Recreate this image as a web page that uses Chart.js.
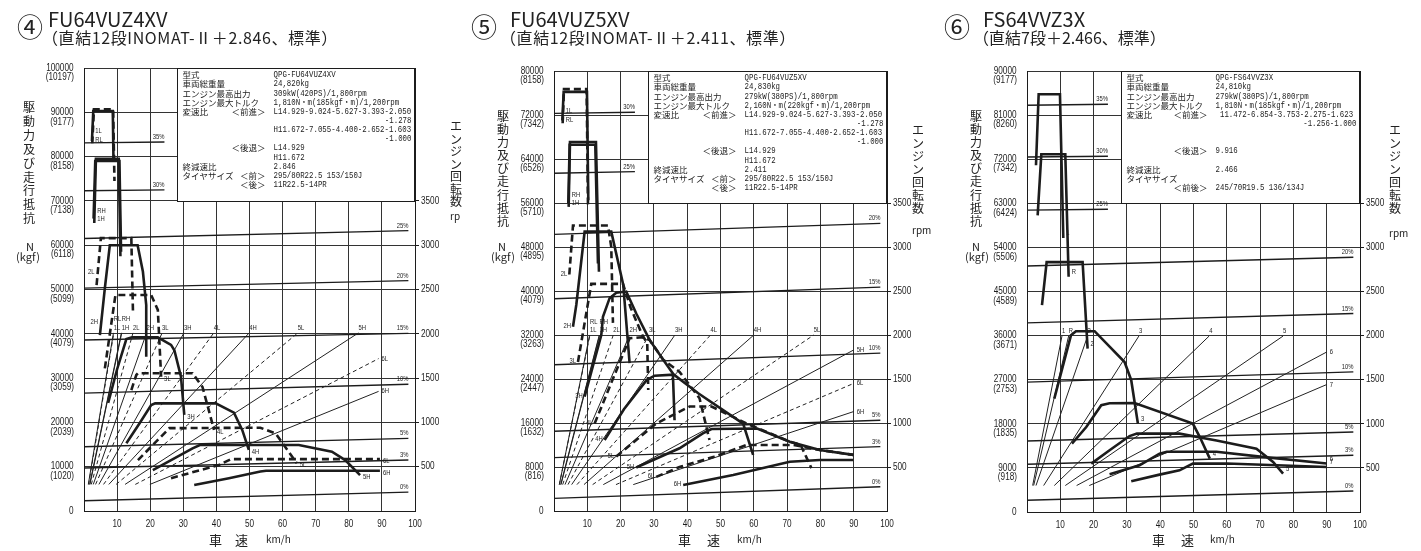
<!DOCTYPE html>
<html lang="ja">
<head>
<meta charset="utf-8">
<title>駆動力及び走行抵抗</title>
<script src="https://cdn.jsdelivr.net/npm/chart.js@4.4.1/dist/chart.umd.min.js"></script>
<style>
  html, body { margin: 0; padding: 0; background: #fff; }
  body { position: relative; width: 1421px; height: 551px; overflow: hidden; color: #222; font-family: "Noto Sans CJK JP", sans-serif; }
  canvas { position: absolute; top: 0; }
  .txt { position: absolute; white-space: nowrap; }
  .num { font-size: 26px; line-height: 26px; }
  .model { font-size: 20px; line-height: 20px; }
  .sub { font-size: 16px; line-height: 16px; }
  .vert { position: absolute; width: 14px; font-size: 12px; text-align: center; word-break: break-all; }
  .unit { font-size: 11px; line-height: 11px; text-align: center; width: 40px; }
  .axis { font-size: 13px; line-height: 13px; }
  .kmh { font-size: 10px; line-height: 10px; }
</style>
</head>
<body>
<canvas id="chart-fu4" width="470" height="551" style="left:0;width:470px;height:551px"></canvas>
<canvas id="chart-fu5" width="470" height="551" style="left:470px;width:470px;height:551px"></canvas>
<canvas id="chart-fs6" width="481" height="551" style="left:940px;width:481px;height:551px"></canvas>

<div class="txt num" style="left:17px;top:13px">④</div>
<div class="txt model" style="left:48px;top:9px">FU64VUZ4XV</div>
<div class="txt sub" style="left:42px;top:29px;letter-spacing:0.6px">（直結12段INOMAT-Ⅱ＋2.846、標準）</div>
<div class="txt num" style="left:471px;top:13px">⑤</div>
<div class="txt model" style="left:510px;top:9px">FU64VUZ5XV</div>
<div class="txt sub" style="left:500px;top:29px;letter-spacing:0.6px">（直結12段INOMAT-Ⅱ＋2.411、標準）</div>
<div class="txt num" style="left:944px;top:13px">⑥</div>
<div class="txt model" style="left:983px;top:9px">FS64VVZ3X</div>
<div class="txt sub" style="left:973px;top:29px">（直結7段＋2.466、標準）</div>

<div class="vert" style="left:22px;top:100px;line-height:13.9px">駆動力及び走行抵抗</div>
<div class="vert" style="left:496px;top:109px;line-height:13.1px">駆動力及び走行抵抗</div>
<div class="vert" style="left:969px;top:109px;line-height:13.1px">駆動力及び走行抵抗</div>
<div class="txt unit" style="left:10px;top:241px">N</div>
<div class="txt unit" style="left:8px;top:251px">(kgf)</div>
<div class="txt unit" style="left:482px;top:241px">N</div>
<div class="txt unit" style="left:483px;top:251px">(kgf)</div>
<div class="txt unit" style="left:956px;top:241px">N</div>
<div class="txt unit" style="left:957px;top:251px">(kgf)</div>

<div class="vert" style="left:449px;top:120px;line-height:12.5px">エンジン回転数</div>
<div class="txt kmh" style="left:450px;top:211px">rp</div>
<div class="vert" style="left:911px;top:123px;line-height:13px">エンジン回転数</div>
<div class="txt kmh" style="left:912px;top:225px">rpm</div>
<div class="vert" style="left:1388px;top:123px;line-height:13px">エンジン回転数</div>
<div class="txt kmh" style="left:1389px;top:228px">rpm</div>

<div class="txt axis" style="left:209px;top:533px">車</div>
<div class="txt axis" style="left:235px;top:533px">速</div>
<div class="txt kmh" style="left:266px;top:534px">km/h</div>
<div class="txt axis" style="left:678px;top:533px">車</div>
<div class="txt axis" style="left:707px;top:533px">速</div>
<div class="txt kmh" style="left:737px;top:534px">km/h</div>
<div class="txt axis" style="left:1152px;top:533px">車</div>
<div class="txt axis" style="left:1181px;top:533px">速</div>
<div class="txt kmh" style="left:1210px;top:534px">km/h</div>

<script>
// shared axis labels
const speedTicks = [10, 20, 30, 40, 50, 60, 70, 80, 90, 100];
const rpmTicks = [500, 1000, 1500, 2000, 2500, 3000, 3500];

// ④ FU64VUZ4XV
const fu4ForceTicks = [0, 10000, 20000, 30000, 40000, 50000, 60000, 70000, 80000, 90000, 100000];
const fu4KgfTicks = [0, 1020, 2039, 3059, 4079, 5099, 6118, 7138, 8158, 9177, 10197];
const fu4Grades = ["0%", "3%", "5%", "10%", "15%", "20%", "25%", "30%", "35%"];
const fu4GradeFrom = [2300, 9700, 14500, 26600, 38600, 50300, 61500, 72300, 83100];
const fu4GradeTo = [4250, 11500, 16400, 28600, 40100, 52000, 63300, 72500, 83300];
const fu4GradeEnd = [98, 98, 98, 98, 98, 98, 98, 24.3, 24.3];
const fu4RpmGears = ["RL", "1L", "RH", "1H", "2L", "2H", "3L", "3H", "4L", "4H", "5L", "5H", "6L", "6H"];
const fu4RpmTags = ["", "RL\n1L", "", "RH\n1H", "2L", "2H", "3L", "3H", "4L", "4H", "5L", "5H", "6L", "6H"];
const fu4RpmLow = [[1.3, 300], [1.4, 300], [1.7, 300], [1.8, 300], [2.2, 300], [2.8, 300], [3.5, 300], [4.5, 300], [5.9, 300], [7.5, 300], [9.7, 300], [12.4, 300], [15.5, 300], [19.9, 300]];
const fu4RpmHigh = [[8.9, 2010], [9.0, 2010], [11.3, 2010], [11.4, 2010], [14.8, 2010], [18.9, 2010], [23.6, 2010], [30.2, 2010], [39.2, 2010], [49.9, 2010], [64.6, 2010], [82.9, 2010], [89, 1720], [89, 1350]];
const fu4ForceGears = ["1L", "RL", "1H", "RH", "2L", "2H", "3L", "3H", "4L", "4H", "5L", "5H", "6L", "6H"];
const fu4ForceTags = ["1L\nRL", "", "RH\n1H", "", "2L", "2H", "3L", "3H", "4L", "4H", "5L", "5H", "6L", "6H"];
const fu4Force = [
  [[2.5, 83000], [3.0, 90700], [8.8, 90700], [9.2, 74500]],
  [[2.4, 83500], [2.8, 90300], [8.7, 90300], [8.9, 79500]],
  [[3.1, 65000], [3.6, 79500], [10.5, 79500], [11.0, 57500]],
  [[2.9, 66000], [3.4, 79000], [10.7, 79000], [11.2, 58500]],
  [[3.8, 51000], [5.1, 61600], [14.3, 61600], [14.8, 44700]],
  [[4.8, 39700], [6.3, 50300], [7.8, 60000], [16.2, 60000], [17.8, 54000], [18.8, 46500], [18.8, 34800]],
  [[6.3, 32200], [9.5, 48750], [20.3, 48750], [22.3, 45400], [23.3, 30300]],
  [[7.3, 24400], [10.0, 32000], [12.8, 38800], [14.5, 39200], [22.3, 39200], [26.3, 37500], [27.3, 36300], [29.3, 30300], [30.3, 21700]],
  [[14.3, 27300], [15.8, 30700], [16.3, 31100], [32.8, 31100], [35.8, 28000], [39.3, 18300]],
  [[12.8, 15300], [16.8, 19800], [20.3, 23900], [21.5, 24300], [39.8, 24300], [45.3, 22200], [47.8, 18300], [49.8, 13800]],
  [[16.3, 11500], [25.8, 18700], [53.3, 18800], [57.9, 17500], [64.3, 10800]],
  [[20.8, 9250], [32.8, 14150], [35.0, 14900], [64.9, 14900], [74.9, 13400], [78.9, 11500], [83.4, 8100]],
  [[26.3, 7400], [40.8, 10400], [44.4, 11700], [89.4, 11700]],
  [[33.3, 5870], [43.8, 7400], [53.3, 8900], [55.0, 9100], [89.4, 9100]]
];
const fu4Spec = [
  ["型式", "", "QPG-FU64VUZ4XV"],
  ["車両総重量", "", "24,820kg"],
  ["エンジン最高出力", "", "309kW(420PS)/1,800rpm"],
  ["エンジン最大トルク", "", "1,810N・m(185kgf・m)/1,200rpm"],
  ["変速比", "＜前進＞", "L14.929-9.024-5.627-3.393-2.050"],
  ["", "", "-1.278"],
  ["", "", "H11.672-7.055-4.400-2.652-1.603"],
  ["", "", "-1.000"],
  ["", "＜後退＞", "L14.929"],
  ["", "", "H11.672"],
  ["終減速比", "", "2.846"],
  ["タイヤサイズ", "＜前＞", "295/80R22.5 153/150J"],
  ["", "＜後＞", "11R22.5-14PR"]
];

// ⑤ FU64VUZ5XV
const fu5ForceTicks = [0, 8000, 16000, 24000, 32000, 40000, 48000, 56000, 64000, 72000, 80000];
const fu5KgfTicks = [0, 816, 1632, 2447, 3263, 4079, 4895, 5710, 6526, 7342, 8158];
const fu5Grades = ["0%", "3%", "5%", "10%", "15%", "20%", "25%", "30%"];
const fu5GradeFrom = [2300, 9700, 14500, 26600, 38600, 50300, 61400, 72300];
const fu5GradeTo = [4420, 11700, 16500, 28700, 40700, 52300, 61700, 72500];
const fu5GradeEnd = [98, 98, 98, 98, 98, 98, 24.3, 24.3];
const fu5RpmGears = ["RL", "1L", "RH", "1H", "2L", "2H", "3L", "3H", "4L", "4H", "5L", "5H", "6L", "6H"];
const fu5RpmTags = ["", "RL\n1L", "", "RH\n1H", "2L", "2H", "3L", "3H", "4L", "4H", "5L", "5H", "6L", "6H"];
const fu5RpmLow = [[1.6, 300], [1.6, 300], [2.0, 300], [2.1, 300], [2.6, 300], [3.3, 300], [4.2, 300], [5.3, 300], [6.9, 300], [9.0, 300], [11.6, 300], [14.8, 300], [18.6, 300], [23.8, 300]];
const fu5RpmHigh = [[10.7, 2000], [10.8, 2000], [13.6, 2000], [13.7, 2000], [17.8, 2000], [22.7, 2000], [28.5, 2000], [36.3, 2000], [47.0, 2000], [60.0, 2000], [78.0, 2000], [90, 1830], [90, 1450], [90, 1130]];
const fu5ForceGears = ["1L", "RL", "1H", "RH", "2L", "2H", "3L", "3H", "4L", "4H", "5L", "5H", "6L", "6H"];
const fu5ForceTags = ["1L\nRL", "", "RH\n1H", "", "2L", "2H", "3L", "3H", "4L", "4H", "5L", "5H", "6L", "6H"];
const fu5Force = [
  [[2.6, 70500], [3.0, 76700], [9.8, 76700], [10.2, 55700]],
  [[2.5, 71000], [2.9, 76200], [9.9, 76200], [10.3, 56500]],
  [[4.4, 55300], [4.8, 67100], [12.6, 67100], [13.5, 43500]],
  [[4.3, 56000], [4.7, 66600], [12.4, 66600], [13.2, 45000]],
  [[4.6, 43000], [5.7, 51900], [16.2, 51900], [17.2, 48000], [17.7, 34200]],
  [[5.7, 33500], [6.7, 37500], [9.2, 50800], [17.2, 50800], [20.8, 41100], [22.7, 26900]],
  [[7.2, 27100], [11.2, 41300], [20.7, 41300], [23.0, 37000], [26.5, 32000], [28.0, 30500], [28.3, 22000]],
  [[9.2, 20800], [14.2, 32000], [14.7, 35300], [16.7, 38700], [18.7, 39700], [21.7, 39900], [24.7, 35900], [28.7, 31100], [32.8, 27500], [35.7, 25000], [36.2, 16500]],
  [[12.2, 15900], [17.0, 23000], [22.7, 31400], [26.4, 31600], [28.7, 31100], [32.8, 27500], [37.7, 25300], [43.7, 20500], [46.7, 12900]],
  [[15.2, 12900], [21.0, 18500], [27.8, 23800], [30.2, 24600], [36.0, 24800], [43.3, 21400], [53.8, 17100], [56.8, 15900], [59.8, 10200]],
  [[18.7, 9900], [30.7, 15900], [40.7, 19000], [47.3, 19000], [53.8, 17100], [57.8, 15900], [70.8, 12600], [74.0, 12100], [77.3, 7800]],
  [[24.7, 7900], [37.7, 11400], [44.7, 14100], [47.3, 14900], [61.0, 15000], [70.8, 12600], [79.8, 11100], [89.9, 10200]],
  [[30.7, 6200], [37.7, 8000], [47.8, 9800], [57.8, 12000], [71.9, 12000], [79.8, 11100], [89.9, 10200]],
  [[38.8, 4730], [53.8, 6550], [70.8, 8960], [79.8, 9270], [89.9, 9270]]
];
const fu5Spec = [
  ["型式", "", "QPG-FU64VUZ5XV"],
  ["車両総重量", "", "24,830kg"],
  ["エンジン最高出力", "", "279kW(380PS)/1,800rpm"],
  ["エンジン最大トルク", "", "2,160N・m(220kgf・m)/1,200rpm"],
  ["変速比", "＜前進＞", "L14.929-9.024-5.627-3.393-2.050"],
  ["", "", "-1.278"],
  ["", "", "H11.672-7.055-4.400-2.652-1.603"],
  ["", "", "-1.000"],
  ["", "＜後退＞", "L14.929"],
  ["", "", "H11.672"],
  ["終減速比", "", "2.411"],
  ["タイヤサイズ", "＜前＞", "295/80R22.5 153/150J"],
  ["", "＜後＞", "11R22.5-14PR"]
];

// ⑥ FS64VVZ3X
const fs6ForceTicks = [0, 9000, 18000, 27000, 36000, 45000, 54000, 63000, 72000, 81000, 90000];
const fs6KgfTicks = [0, 918, 1835, 2753, 3671, 4589, 5506, 6424, 7342, 8260, 9177];
const fs6Grades = ["0%", "3%", "5%", "10%", "15%", "20%", "25%", "30%", "35%"];
const fs6GradeFrom = [2390, 9740, 14500, 26500, 38600, 50200, 61600, 72450, 83000];
const fs6GradeTo = [4290, 11570, 16330, 28600, 40500, 52000, 61800, 72600, 83200];
const fs6GradeEnd = [98, 98, 98, 98, 98, 98, 24.3, 24.3, 24.3];
const fs6RpmGears = ["1", "R", "2", "3", "4", "5", "6", "7"];
const fs6RpmTags = ["1", "R", "2", "3", "4", "5", "6", "7"];
const fs6RpmLow = [[1.7, 300], [2.0, 300], [2.7, 300], [5.0, 300], [8.2, 300], [11.5, 300], [14.9, 300], [18.7, 300]];
const fs6RpmHigh = [[10.5, 1995], [12.5, 1995], [18.2, 1995], [33.6, 1995], [54.7, 1995], [76.9, 1995], [90, 1814], [90, 1445]];
const fs6ForceGears = ["1", "R", "2", "3", "4", "5", "6", "7"];
const fs6ForceTags = ["1", "R", "2", "3", "4", "5", "6", "7"];
const fs6Force = [
  [[2.7, 70750], [3.5, 85250], [9.9, 85250], [10.9, 55900]],
  [[3.2, 60550], [4.3, 73000], [11.5, 73000], [12.5, 48000]],
  [[4.5, 42200], [5.9, 51000], [16.7, 51000], [18.2, 33350]],
  [[8.2, 23150], [13.2, 36050], [14.7, 36900], [20.3, 36900], [29.3, 30600], [31.3, 26900], [33.3, 18050]],
  [[13.5, 13960], [17.8, 17350], [22.3, 21800], [24.8, 22200], [32.3, 22250], [49.8, 18050], [51.9, 15300], [54.9, 10900]],
  [[19.3, 9880], [24.8, 12600], [30.8, 15500], [33.0, 16000], [45.8, 16000], [56.9, 14600], [68.9, 12900], [73.9, 10200], [76.9, 7840]],
  [[24.8, 7700], [33.8, 9530], [39.8, 11900], [42.0, 12300], [56.9, 12300], [70.0, 11300], [90.0, 9900]],
  [[31.3, 6270], [39.8, 7630], [45.8, 8510], [49.8, 9880], [60.0, 9900], [90.0, 9180]]
];
const fs6Spec = [
  ["型式", "", "QPG-FS64VVZ3X"],
  ["車両総重量", "", "24,810kg"],
  ["エンジン最高出力", "", "279kW(380PS)/1,800rpm"],
  ["エンジン最大トルク", "", "1,810N・m(185kgf・m)/1,200rpm"],
  ["変速比", "＜前進＞", " 11.472-6.854-3.753-2.275-1.623"],
  ["", "", "-1.256-1.000"],
  ["", "", ""],
  ["", "", ""],
  ["", "＜後退＞", "9.916"],
  ["", "", ""],
  ["終減速比", "", "2.466"],
  ["タイヤサイズ", "", ""],
  ["", "＜前後＞", "245/70R19.5 136/134J"]
];

const TICK_FONT = '10px "Liberation Sans", sans-serif';
const TAG_FONT = '7.5px "Liberation Sans", sans-serif';
const BOX_JP = '8.5px "Noto Sans CJK JP", sans-serif';
const BOX_MONO = '8.5px "Liberation Mono", "Noto Sans CJK JP", monospace';
const INK = "#1c1c1c";
const GRID = "#333";

function put(ctx, str, x, y, align, font, sx) {
  ctx.save();
  ctx.font = font;
  ctx.fillStyle = INK;
  ctx.textBaseline = "middle";
  ctx.textAlign = align;
  ctx.translate(x, y);
  ctx.scale(sx, 1);
  ctx.fillText(str, 0, 0);
  ctx.restore();
}

function isLow(gear) {
  return gear.endsWith("L") && gear !== "RL";
}

// spec table in the top right corner, painted over the grid
function drawSpecBox(chart, p) {
  const { ctx, chartArea: a, scales } = chart;
  const left = Math.round(scales.x.getPixelForValue(28.2)) + 0.5;
  const bottom = Math.round(scales.y.getPixelForValue(p.forceTicks[7])) + 0.5;
  const top = a.top + 0.5;
  const right = a.right - 0.5;
  ctx.save();
  ctx.fillStyle = "#fff";
  ctx.fillRect(left, top, right - left, bottom - top);
  ctx.strokeStyle = INK;
  ctx.lineWidth = 1;
  ctx.strokeRect(left, top, right - left, bottom - top);
  ctx.restore();

  p.spec.forEach((row, i) => {
    const y = a.top + 7 + i * 9.15;
    const [label, bracket, value] = row;
    if (label) put(ctx, label, left + 5, y, "left", BOX_JP, 1);
    if (bracket) put(ctx, bracket, left + p.valueCol - 8, y, "right", BOX_JP, 1);
    if (!value) return;
    if (!label && !bracket && value.startsWith("-")) {
      put(ctx, value, right - 3, y, "right", BOX_MONO, 0.87);
    } else {
      put(ctx, value, left + p.valueCol, y, "left", BOX_MONO, 0.87);
    }
  });
}

function drawTickLabels(chart, p) {
  const { ctx, chartArea: a, scales } = chart;
  p.forceTicks.forEach((v, i) => {
    const y = scales.y.getPixelForValue(v);
    put(ctx, String(v), a.left - 10.5, y, "right", TICK_FONT, 0.82);
    if (i > 0) put(ctx, "(" + p.kgfTicks[i] + ")", a.left - 10, y + 9.5, "right", TICK_FONT, 0.82);
  });
  rpmTicks.forEach(r => {
    put(ctx, String(r), a.right + 6, scales.rpm.getPixelForValue(r), "left", TICK_FONT, 0.82);
  });
  speedTicks.forEach(s => {
    put(ctx, String(s), scales.x.getPixelForValue(s), a.bottom + 13, "center", TICK_FONT, 0.82);
  });
}

function drawTags(chart, p) {
  const ctx = chart.ctx;
  chart.data.datasets.forEach((ds, i) => {
    if (!ds.tag) return;
    const pts = chart.getDatasetMeta(i).data;
    const first = pts[0];
    const last = pts[pts.length - 1];
    const lines = ds.tag.split("\n");
    const n = lines.length;
    let x, y0, align = "left";
    if (ds.tagMode === "grade") {
      x = last.x; y0 = last.y - 5; align = "right";
    } else if (ds.tagMode === "rpm") {
      if (ds.data[ds.data.length - 1].x >= 88) {
        x = last.x + 3; y0 = last.y;
      } else {
        x = last.x; y0 = last.y - 5 - (n - 1) * 8.5;
      }
    } else if (ds.tagMode === "sr") {
      x = first.x + 3; y0 = first.y + p.srDy - (n - 1) * 4.25;
    } else if (ds.tagMode === "sl") {
      x = first.x - 2; y0 = first.y + p.slDy; align = "right";
    } else {
      x = last.x + 3; y0 = last.y + p.erDy;
    }
    lines.forEach((s, k) => put(ctx, s, x, y0 + k * 8.5, align, TAG_FONT, 0.78));
  });
}

function buildPanel(p) {
  const canvas = document.getElementById(p.id);
  const W = canvas.width;
  const H = canvas.height;
  const datasets = [];

  p.forceGears.forEach((g, i) => {
    datasets.push({
      data: p.force[i].map(([x, y]) => ({ x, y })),
      borderColor: INK,
      borderWidth: 2.6,
      borderDash: isLow(g) ? [7, 4] : [],
      yAxisID: "y",
      tag: p.forceTags[i],
      tagMode: p.tagAt[i]
    });
  });
  p.rpmGears.forEach((g, i) => {
    datasets.push({
      data: [{ x: p.rpmLow[i][0], y: p.rpmLow[i][1] }, { x: p.rpmHigh[i][0], y: p.rpmHigh[i][1] }],
      borderColor: "#222",
      borderWidth: 1,
      borderDash: isLow(g) ? [4, 3] : [],
      yAxisID: "rpm",
      tag: p.rpmTags[i],
      tagMode: "rpm"
    });
  });
  p.grades.forEach((g, i) => {
    datasets.push({
      data: [{ x: 0, y: p.gradeFrom[i] }, { x: p.gradeEnd[i], y: p.gradeTo[i] }],
      borderColor: INK,
      borderWidth: 1.4,
      yAxisID: "y",
      tag: g,
      tagMode: "grade"
    });
  });

  return new Chart(canvas, {
    type: "scatter",
    data: { datasets },
    options: {
      responsive: false,
      animation: false,
      events: [],
      layout: { padding: { top: p.area.top, left: 0, right: 0, bottom: 0 } },
      plugins: { legend: { display: false }, tooltip: { enabled: false } },
      elements: { point: { radius: 0 }, line: { tension: 0, borderCapStyle: "butt", borderJoinStyle: "miter" } },
      datasets: { scatter: { showLine: true } },
      scales: {
        x: {
          type: "linear", min: 0, max: 100,
          ticks: { display: false, stepSize: 10 },
          grid: { color: GRID, lineWidth: 1, drawTicks: false },
          border: { color: INK },
          afterFit: s => { s.height = H - p.area.bottom; }
        },
        y: {
          type: "linear", min: 0, max: p.forceTicks[p.forceTicks.length - 1],
          ticks: { display: false, stepSize: p.forceTicks[1] },
          grid: { color: GRID, lineWidth: 1, drawTicks: false },
          border: { color: INK },
          afterFit: s => { s.width = p.area.left; }
        },
        rpm: {
          type: "linear", position: "right", min: 0, max: 5000,
          ticks: { display: false, stepSize: 500 },
          grid: {
            drawOnChartArea: false, tickLength: 4,
            color: c => (c.tick && c.tick.value >= 500 && c.tick.value <= 3500) ? INK : "rgba(0,0,0,0)"
          },
          border: { color: INK },
          afterFit: s => { s.width = W - p.area.right; }
        }
      }
    },
    plugins: [{
      id: "panelText",
      beforeDatasetsDraw(chart) { drawSpecBox(chart, p); },
      afterDraw(chart) { drawTickLabels(chart, p); drawTags(chart, p); }
    }]
  });
}

document.addEventListener("DOMContentLoaded", function () {
  buildPanel({
    id: "chart-fu4", area: { left: 84, right: 415, top: 68, bottom: 511 },
    forceTicks: fu4ForceTicks, kgfTicks: fu4KgfTicks,
    grades: fu4Grades, gradeFrom: fu4GradeFrom, gradeTo: fu4GradeTo, gradeEnd: fu4GradeEnd,
    rpmGears: fu4RpmGears, rpmTags: fu4RpmTags, rpmLow: fu4RpmLow, rpmHigh: fu4RpmHigh,
    forceGears: fu4ForceGears, forceTags: fu4ForceTags, force: fu4Force, spec: fu4Spec,
    tagAt: ["sr", "", "sr", "", "sl", "sl", "er", "er", "er", "er", "er", "er", "er", "er"],
    srDy: -8, slDy: -13, erDy: 2, valueCol: 96
  });
  buildPanel({
    id: "chart-fu5", area: { left: 84, right: 417, top: 71, bottom: 511 },
    forceTicks: fu5ForceTicks, kgfTicks: fu5KgfTicks,
    grades: fu5Grades, gradeFrom: fu5GradeFrom, gradeTo: fu5GradeTo, gradeEnd: fu5GradeEnd,
    rpmGears: fu5RpmGears, rpmTags: fu5RpmTags, rpmLow: fu5RpmLow, rpmHigh: fu5RpmHigh,
    forceGears: fu5ForceGears, forceTags: fu5ForceTags, force: fu5Force, spec: fu5Spec,
    tagAt: ["sr", "", "sr", "", "sl", "sl", "sl", "sl", "sl", "sl", "sl", "sl", "sl", "sl"],
    srDy: -8, slDy: -1, erDy: 2, valueCol: 96
  });
  buildPanel({
    id: "chart-fs6", area: { left: 87, right: 420, top: 71, bottom: 512 },
    forceTicks: fs6ForceTicks, kgfTicks: fs6KgfTicks,
    grades: fs6Grades, gradeFrom: fs6GradeFrom, gradeTo: fs6GradeTo, gradeEnd: fs6GradeEnd,
    rpmGears: fs6RpmGears, rpmTags: fs6RpmTags, rpmLow: fs6RpmLow, rpmHigh: fs6RpmHigh,
    forceGears: fs6ForceGears, forceTags: fs6ForceTags, force: fs6Force, spec: fs6Spec,
    tagAt: ["er", "er", "er", "er", "er", "er", "er", "er"],
    srDy: -8, slDy: -1, erDy: -5, valueCol: 94
  });
});
</script>
</body>
</html>
